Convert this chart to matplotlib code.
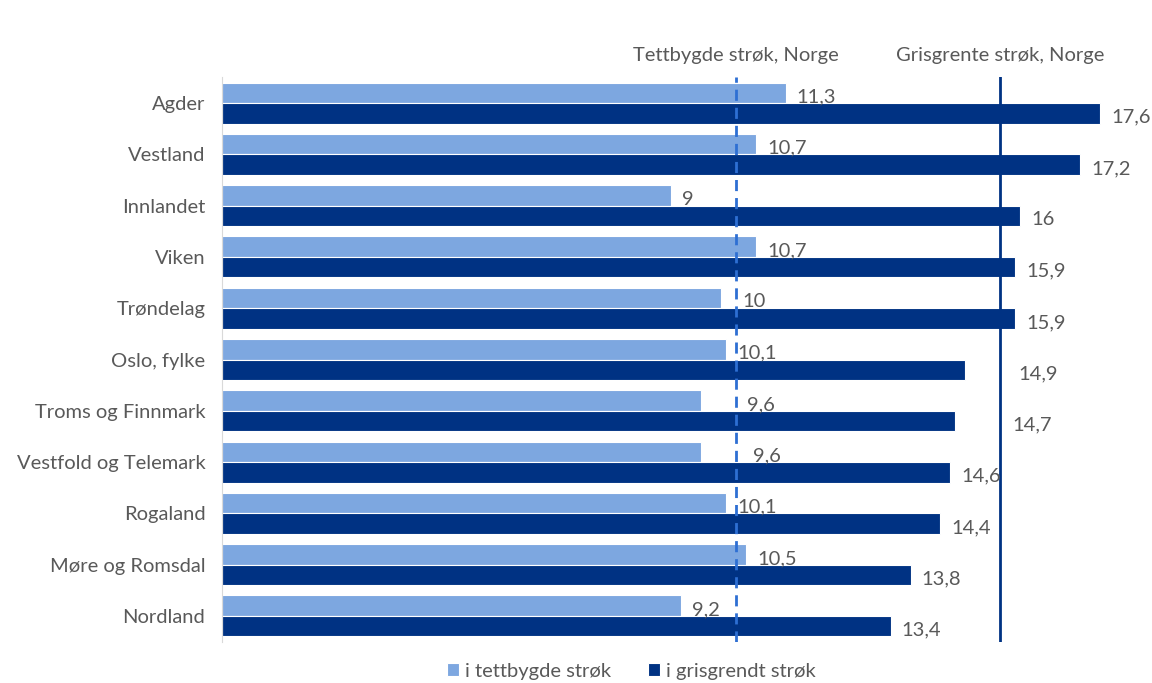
import matplotlib.pyplot as plt
import numpy as np

regions = ["Agder", "Vestland", "Innlandet", "Viken", "Trøndelag", "Oslo, fylke",
           "Troms og Finnmark", "Vestfold og Telemark", "Rogaland",
           "Møre og Romsdal", "Nordland"]
tettbygd = [11.3, 10.7, 9.0, 10.7, 10.0, 10.1, 9.6, 9.6, 10.1, 10.5, 9.2]
grisgrendt = [17.6, 17.2, 16.0, 15.9, 15.9, 14.9, 14.7, 14.6, 14.4, 13.8, 13.4]
norge_tett = 10.3
norge_gris = 15.6

light = "#7da7e0"
dark = "#003283"
grey = "#595959"

plt.rcParams["font.family"] = ["Lato", "DejaVu Sans"]
plt.rcParams["font.size"] = 14.5

fig = plt.figure(figsize=(11.52, 6.83), dpi=100)
ax = fig.add_axes([0.1927, 0.0606, 0.79, 0.826])

y = np.arange(len(regions))
h = 0.4
ax.barh(y - h / 2, tettbygd, height=h, color=light, edgecolor="white", linewidth=0.8,
        label="i tettbygde strøk")
ax.barh(y + h / 2, grisgrendt, height=h, color=dark, edgecolor="white", linewidth=0.8,
        label="i grisgrendt strøk")

ax.axvline(norge_tett, color="#2e6fd3", lw=2, ls=(0, (4, 2.5)))
ax.axvline(norge_gris, color=dark, lw=2)

ax.text(norge_tett, -0.92, "Tettbygde strøk, Norge", ha="center", va="center", color=grey)
ax.text(norge_gris, -0.92, "Grisgrente strøk, Norge", ha="center", va="center", color=grey)

def fmt(v):
    return f"{v:g}".replace(".", ",")

# a few labels were dragged aside in the original, extra pixels to the right
nudge_light = {4: 10, 6: 35, 7: 41}
nudge_dark = {5: 42, 6: 46}

for i, v in enumerate(tettbygd):
    ax.annotate(fmt(v), xy=(v, i - h / 2), xytext=(11 + nudge_light.get(i, 0), -4),
                textcoords="offset pixels", ha="left", va="center", color=grey)
for i, v in enumerate(grisgrendt):
    ax.annotate(fmt(v), xy=(v, i + h / 2), xytext=(11 + nudge_dark.get(i, 0), -4),
                textcoords="offset pixels", ha="left", va="center", color=grey)

ax.set_ylim(len(regions) - 0.5, -0.5)
ax.set_xlim(0, 18.24)
ax.set_yticks(y)
ax.set_yticklabels(regions, color=grey)
ax.tick_params(axis="y", length=0, pad=12)
ax.set_xticks([])
for s in ["top", "right", "bottom"]:
    ax.spines[s].set_visible(False)
ax.spines["left"].set_color("#d9d9d9")

ax.legend(loc="upper center", bbox_to_anchor=(0.45, -0.005), ncol=2, frameon=False,
          handlelength=0.6, handleheight=0.6, handletextpad=0.3, columnspacing=1.8,
          labelcolor=grey)

fig.savefig("out.png", dpi=100)
